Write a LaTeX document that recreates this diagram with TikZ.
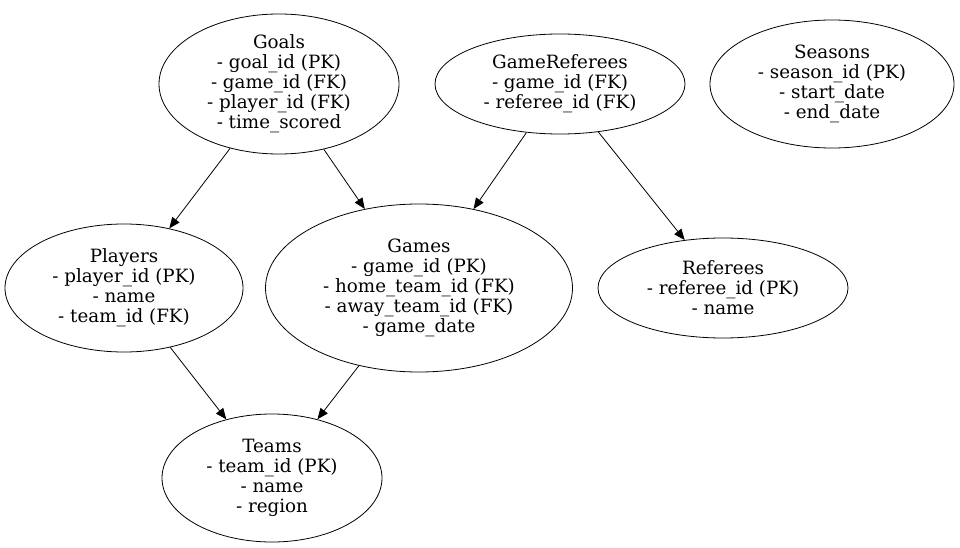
\documentclass[tikz,border=0pt]{standalone}
\usepackage{fontspec}
\setmainfont{DejaVu Serif}
\usetikzlibrary{shapes.geometric,arrows.meta}
\begin{document}
\begin{tikzpicture}[x=1pt,y=-1pt,
  ent/.style={ellipse,draw,line width=0.8pt,inner sep=0pt,align=center,
    font=\fontsize{18.3}{20}\selectfont},
  rel/.style={draw,line width=0.8pt,-{Triangle[length=11pt,width=9pt]}}]
\useasboundingbox (0,0) rectangle (960,548);
\node[ent,minimum width=240,minimum height=140] (goals) at (279,84) {Goals\\- goal\_id (PK)\\- game\_id (FK)\\- player\_id (FK)\\- time\_scored};
\node[ent,minimum width=250,minimum height=100] (gref) at (560,84) {GameReferees\\- game\_id (FK)\\- referee\_id (FK)};
\node[ent,minimum width=244,minimum height=128] (seasons) at (832,84) {Seasons\\- season\_id (PK)\\- start\_date\\- end\_date};
\node[ent,minimum width=238,minimum height=128] (players) at (124,288) {Players\\- player\_id (PK)\\- name\\- team\_id (FK)};
\node[ent,minimum width=307,minimum height=168] (games) at (419,288) {Games\\- game\_id (PK)\\- home\_team\_id (FK)\\- away\_team\_id (FK)\\- game\_date};
\node[ent,minimum width=250,minimum height=100] (referees) at (723,288) {Referees\\- referee\_id (PK)\\- name};
\node[ent,minimum width=220,minimum height=128] (teams) at (272,478) {Teams\\- team\_id (PK)\\- name\\- region};
\draw[rel] (goals) -- (players);
\draw[rel] (goals) -- (games);
\draw[rel] (gref) -- (games);
\draw[rel] (gref) -- (referees);
\draw[rel] (players) -- (teams);
\draw[rel] (games) -- (teams);
\end{tikzpicture}
\end{document}
